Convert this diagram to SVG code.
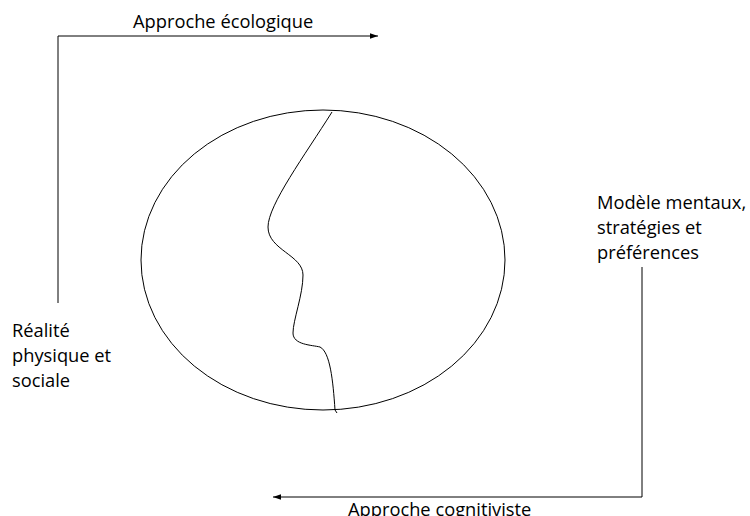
<svg xmlns="http://www.w3.org/2000/svg" width="750" height="516" viewBox="0 0 750 516">
<style>
text{font-family:"Open Sans","Noto Sans",sans-serif;font-size:18.3px;fill:#000}
.ln{fill:none;stroke:#000;stroke-width:1}
</style>
<defs>
<marker id="ah" viewBox="0 0 10 10" refX="10" refY="5" markerWidth="8" markerHeight="8" markerUnits="userSpaceOnUse" orient="auto"><path d="M0,1.5 L10,5 L0,8.5 Z" fill="#000"/></marker>
</defs>
<rect width="750" height="516" fill="#fff"/>
<g id="connectors">
<path class="ln" d="M58,303 V36 H378" marker-end="url(#ah)"/>
<path class="ln" d="M642,267 V497 H273" marker-end="url(#ah)"/>
</g>
<g id="world">
<ellipse class="ln" cx="323" cy="260" rx="182" ry="150"/>
<path class="ln" d="M332,112 C305,155 268,205 268,227 C268,250 303,255 303,275 C303,295 293,320 293,333 C293,345 312,345 320,347 C330,352 333,380 335,410 L337,413"/>
</g>
<g id="label-ecologique"><text x="133" y="28">Approche écologique</text></g>
<g id="label-cognitiviste"><text x="348" y="516">Approche cognitiviste</text></g>
<g id="node-modeles"><text x="597" y="209">Modèle mentaux,</text><text x="597" y="234">stratégies et</text><text x="597" y="259">préférences</text></g>
<g id="node-realite"><text x="12" y="337">Réalité</text><text x="12" y="362">physique et</text><text x="12" y="387">sociale</text></g>
</svg>
